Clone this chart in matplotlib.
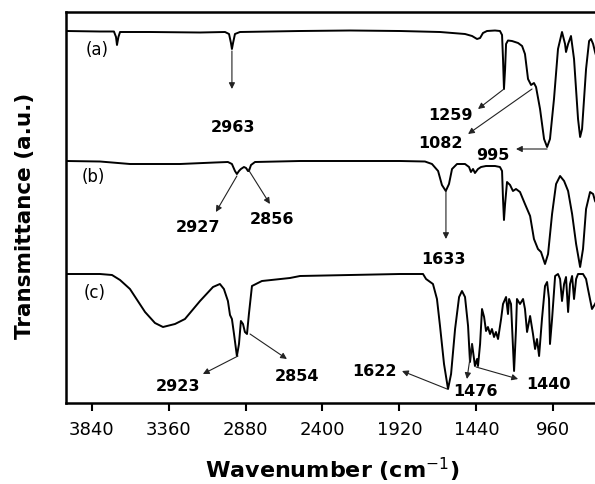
import matplotlib
matplotlib.use("Agg")
import matplotlib.pyplot as plt
import numpy as np

plt.rcParams['font.family'] = ['DejaVu Sans']

# ---- data (wavenumber cm^-1, transmittance a.u.) ----
wn_a = [4000, 3788, 3701, 3688, 3682, 3673, 3663, 3476, 3164, 3008, 2983, 2971, 2965, 2958, 2946, 2915,
        2540, 2228, 1917, 1667, 1511, 1467, 1436, 1417, 1399, 1374, 1324, 1293, 1280, 1274, 1268, 1261,
        1255, 1243, 1218, 1180, 1155, 1137, 1118, 1099, 1081, 1068, 1043, 1018, 999, 981, 956, 931, 906,
        887, 881, 868, 850, 831, 806, 793, 781, 756, 737, 725, 712, 700, 669]
tr_a = [372, 371.5, 371.5, 366, 358, 366, 371, 371, 370.5, 371, 369, 360, 354, 360, 369, 371,
        372, 372.5, 372, 371, 369, 367, 364, 365, 370, 372, 372.5, 372, 368, 344, 314, 334,
        359, 362.5, 362, 360, 357, 349, 324, 318, 320, 316, 294, 264, 256, 264, 304, 354, 371,
        359, 351, 359, 367, 344, 284, 266, 274, 334, 362, 364, 359, 351, 334]

wn_b = [4000, 3788, 3601, 3289, 3071, 2990, 2965, 2946, 2934, 2921, 2909, 2890, 2877, 2865, 2859, 2846,
        2821, 2540, 2228, 1917, 1761, 1717, 1679, 1655, 1631, 1611, 1592, 1561, 1511, 1486, 1474, 1461,
        1449, 1430, 1411, 1380, 1324, 1293, 1280, 1274, 1268, 1261, 1249, 1230, 1212, 1193, 1168, 1137,
        1105, 1081, 1056, 1037, 1012, 993, 968, 943, 918, 893, 868, 843, 818, 793, 775, 756, 731, 712,
        700, 669]
tr_b = [242, 241.5, 239, 239, 240.5, 241, 239, 232, 229, 232, 234, 236, 235, 232, 232, 238,
        241, 242, 242, 242, 241.5, 239, 232, 218, 212, 219, 234, 239, 239, 236, 231, 234,
        230, 234, 236, 237, 237, 236, 232, 204, 183, 199, 221, 218, 212, 214, 211, 199,
        187, 164, 154, 151, 139, 149, 189, 219, 227, 222, 212, 189, 159, 136, 154, 194, 211, 209,
        202, 194]

wn_c = [4000, 3788, 3713, 3663, 3601, 3507, 3445, 3395, 3320, 3258, 3164, 3083, 3040, 3015, 2990, 2977,
        2965, 2952, 2934, 2921, 2909, 2896, 2884, 2871, 2859, 2840, 2778, 2603, 2540, 1917, 1773, 1754,
        1711, 1686, 1667, 1642, 1617, 1598, 1573, 1548, 1530, 1511, 1492, 1480, 1467, 1449, 1436, 1430,
        1417, 1405, 1392, 1380, 1368, 1355, 1343, 1330, 1318, 1305, 1286, 1274, 1255, 1243, 1236, 1224,
        1205, 1193, 1187, 1168, 1149, 1137, 1124, 1105, 1087, 1074, 1062, 1049, 1031, 1012, 999, 987,
        981, 968, 949, 931, 918, 906, 893, 881, 868, 856, 843, 831, 818, 806, 775, 756, 744, 719, 700, 669]
tr_c = [129, 129, 128, 123, 114, 91, 80, 76, 79, 84, 102, 116, 119, 114, 102, 88,
        84, 69, 47, 59, 82, 79, 71, 69, 89, 117, 122, 125, 127, 129, 129, 124,
        119, 104, 77, 39, 14, 29, 74, 106, 112, 106, 77, 41, 59, 37, 44, 37,
        59, 94, 86, 72, 76, 69, 74, 66, 71, 64, 84, 99, 106, 89, 104, 99,
        32, 74, 104, 99, 104, 94, 71, 87, 69, 54, 64, 47, 84, 117, 121, 104,
        59, 84, 127, 129, 124, 102, 119, 126, 91, 119, 127, 104, 124, 129, 129, 124, 114, 94, 99, 109]

curve_labels = ['(a)', '(b)', '(c)']
label_pos = [(3807, 354), (3832, 227), (3819, 111)]

# peak annotations: text, peak point, arrow end, text position
peaks = [
    ('2963', (2965, 352), (2965, 314), (2958, 276)),
    ('1259', (1268, 314), (1430, 294), (1605, 289)),
    ('1082', (1093, 314), (1492, 269), (1667, 260)),
    ('995',  (999, 254),  (1193, 254), (1336, 249)),
    ('2927', (2934, 227), (3065, 191), (3177, 176)),
    ('2856', (2865, 234), (2728, 199), (2715, 184)),
    ('1633', (1630, 212), (1630, 164), (1648, 144)),
    ('2923', (2927, 47),  (3146, 29),  (3302, 17)),
    ('2854', (2852, 69),  (2622, 44),  (2559, 27)),
    ('1622', (1623, 14),  (1904, 32),  (2073, 32)),
    ('1476', (1467, 59),  (1499, 24),  (1449, 12)),
    ('1440', (1442, 36),  (1180, 24),  (993, 19)),
]

xticks = [3840, 3360, 2880, 2400, 1920, 1440, 960]

fig = plt.figure(figsize=(5.95, 4.85), dpi=100)
ax = fig.add_axes([66/595, 81/485, 534/595, 391/485])

for wn, tr in [(wn_a, tr_a), (wn_b, tr_b), (wn_c, tr_c)]:
    ax.plot(wn, tr, color='black', lw=1.4)

for lab, (x, y) in zip(curve_labels, label_pos):
    ax.text(x, y, lab, fontsize=12, ha='center', va='center')

for txt, p, e, t in peaks:
    ax.annotate('', xy=e, xytext=p,
                arrowprops=dict(arrowstyle='-|>', color='#222222', lw=0.8,
                                mutation_scale=9, shrinkA=0, shrinkB=0))
    ax.text(t[0], t[1], txt, fontsize=11.5, fontweight='bold', ha='center', va='center')

ax.set_xlim(4000, 669)
ax.set_ylim(0, 391)
ax.set_xticks(xticks)
ax.set_xticklabels([str(v) for v in xticks], fontsize=13)
ax.set_yticks([])
ax.tick_params(axis='x', direction='out', length=6, width=1.5, pad=6)
for s in ax.spines.values():
    s.set_linewidth(1.8)

ax.set_xlabel('Wavenumber (cm$^{-1}$)', fontsize=16, fontweight='bold')
ax.xaxis.label.set_verticalalignment('center')
ax.xaxis.set_label_coords((332-66)/534, (404-470)/391)
ax.set_ylabel('Transmittance (a.u.)', fontsize=15.5, fontweight='bold')
ax.yaxis.label.set_verticalalignment('center')
ax.yaxis.set_label_coords((25-66)/534, (404-216)/391)

fig.savefig('out.png', dpi=100)
